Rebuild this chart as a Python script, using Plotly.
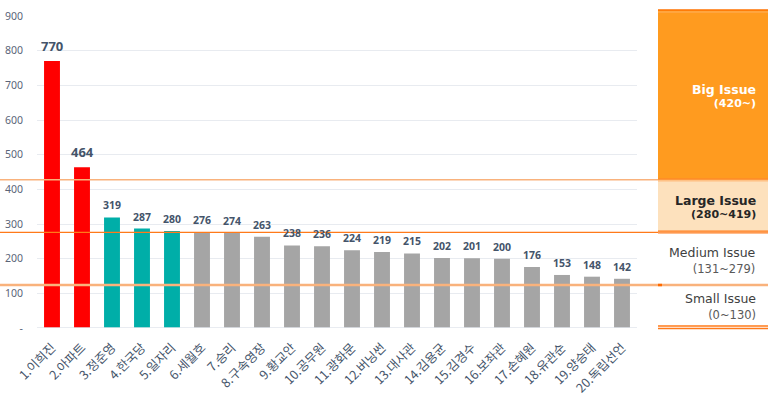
import plotly.graph_objects as go

categories = ["1.이희진", "2.아파트", "3.정준영", "4.한국당", "5.일자리", "6.세월호", "7.승리",
              "8.구속영장", "9.황교안", "10.공무원", "11.광화문", "12.버닝썬", "13.대사관",
              "14.김용균", "15.김경수", "16.보좌관", "17.손혜원", "18.유관순", "19.양승태", "20.독립선언"]
values = [770, 464, 319, 287, 280, 276, 274, 263, 238, 236, 224, 219, 215, 202, 201, 200, 176, 153, 148, 142]
tiers = ["big", "big", "large", "large", "large"] + ["medium"] * 15
tier_colors = {"big": "#ff0000", "large": "#00aea8", "medium": "#a5a5a5"}

y_ticks = [0, 100, 200, 300, 400, 500, 600, 700, 800, 900]
y_ticktext = ["-"] + [str(v) for v in y_ticks[1:]]
boundaries = [428, 276, 124]  # drawn boundary lines (value units)
YMAX = 900

panel_labels = [("Big Issue", "(420~)"), ("Large Issue", "(280~419)"),
                ("Medium Issue", "(131~279)"), ("Small Issue", "(0~130)")]

W, H = 773, 395
ML, MR, MT, MB = 37, 136, 16, 67
PW = W - ML - MR
PH = H - MT - MB

def px_x(px):
    return (px - ML) / PW

def px_y(py):
    return (H - MB - py) / PH

fig = go.Figure()
fig.add_trace(go.Bar(
    x=categories, y=values,
    marker=dict(color=[tier_colors[t] for t in tiers], line=dict(width=0)),
    width=0.53, hoverinfo="x+y"))

annotations = []
for i, (c, v) in enumerate(zip(categories, values)):
    big = i < 2
    annotations.append(dict(x=c, y=v, text=str(v), showarrow=False, xref="x", yref="y",
                            yanchor="bottom", yshift=4 if big else 3,
                            font=dict(size=13 if big else 10.5, color="#44546a",
                                      family="Noto Sans, sans-serif", weight="bold")))

shapes = []
b1, b2, b3 = [b / YMAX for b in boundaries]
panel_l, panel_r = px_x(658), px_x(768)
shapes.append(dict(type="line", xref="paper", yref="paper", x0=px_x(0), x1=panel_l, y0=b1, y1=b1,
                   line=dict(color="#f9b27c", width=1.5)))
shapes.append(dict(type="line", xref="paper", yref="paper", x0=px_x(0), x1=panel_l, y0=b2, y1=b2,
                   line=dict(color="#ff7a1a", width=1.3)))
shapes.append(dict(type="line", xref="paper", yref="paper", x0=px_x(0), x1=panel_r, y0=b3, y1=b3,
                   line=dict(color="#f9b27c", width=2.5)))
shapes.append(dict(type="line", xref="paper", yref="paper", x0=panel_l, x1=px_x(662), y0=b3, y1=b3,
                   line=dict(color="#ff6a00", width=2.5)))
top = px_y(10)
shapes.append(dict(type="rect", xref="paper", yref="paper", x0=panel_l, x1=panel_r, y0=b1, y1=top,
                   fillcolor="#ff9b1f", line=dict(width=0), layer="above"))
shapes.append(dict(type="rect", xref="paper", yref="paper", x0=panel_l, x1=panel_r, y0=b2, y1=b1,
                   fillcolor="#fde1bd", line=dict(width=0), layer="above"))
for yy, col, wd in [(top, "#ff7200", 1.5), (px_y(12), "#ffb060", 1),
                    (b1 + 0.002, "#ff8a2a", 1.5), (b1 - 0.004, "#ffb066", 1),
                    (b2 + 0.004, "#ff7a1a", 1.3), (b2 - 0.002, "#ff7a1a", 1.3),
                    (px_y(326), "#ff7a1a", 1.3), (px_y(328.5), "#ff7a1a", 1.3)]:
    shapes.append(dict(type="line", xref="paper", yref="paper", x0=panel_l, x1=panel_r, y0=yy, y1=yy,
                       line=dict(color=col, width=wd), layer="above"))
shapes.append(dict(type="line", xref="paper", yref="y", x0=0, x1=1, y0=0, y1=0,
                   line=dict(color="rgba(225,229,236,0.75)", width=2), layer="above"))

tx = px_x(758)
# (center y of block px, base size (sets line spacing), size1, size2, color1, color2, bold)
label_cfg = [
    (95.5, 10, 12.5, 11, "white", "white", True),
    (207, 10, 12.5, 11, "#262626", "#262626", True),
    (260, 12, 12.5, 11.5, "#404040", "#595959", False),
    (306.5, 12, 12.5, 11.5, "#404040", "#595959", False),
]
for (l1, l2), (cy, base, s1, s2, c1, c2, bold) in zip(panel_labels, label_cfg):
    w = "bold" if bold else "normal"
    txt = (f"<span style='font-size:{s1}px;color:{c1};font-weight:{w}'>{l1}</span><br>"
           f"<span style='font-size:{s2}px;color:{c2};font-weight:{w}'>{l2}</span>")
    annotations.append(dict(x=tx, y=px_y(cy), xref="paper", yref="paper", text=txt, showarrow=False,
                            xanchor="right", yanchor="middle", align="right",
                            font=dict(family="DejaVu Sans, sans-serif", size=base, color=c1)))

fig.update_layout(
    width=W, height=H,
    margin=dict(l=ML, r=MR, t=MT, b=MB, pad=0),
    plot_bgcolor="white", paper_bgcolor="white",
    showlegend=False, bargap=0.47,
    font=dict(family="Noto Sans CJK KR, sans-serif", color="#44546a"),
    xaxis=dict(tickangle=-45, tickfont=dict(size=12.5, color="#44546a"), showgrid=False,
               showline=False, ticks="", range=[-0.5, len(categories) - 0.5],
               ticklabelstandoff=9, automargin=False),
    yaxis=dict(range=[0, YMAX], tickvals=y_ticks, ticktext=y_ticktext,
               tickfont=dict(size=10.5, color="#5a6478", family="Noto Sans, sans-serif"),
               gridcolor="#e8ebf0", gridwidth=1, zeroline=False, showline=False,
               ticklabelstandoff=13, automargin=False),
    shapes=shapes, annotations=annotations,
)

fig.write_html("out.html")
